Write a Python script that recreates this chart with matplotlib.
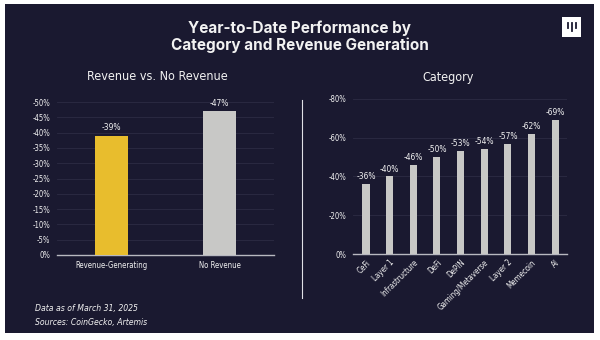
import matplotlib.pyplot as plt
from matplotlib.patches import Rectangle
from matplotlib.lines import Line2D

# YTD performance data (negative returns)
rev_labels = ['Revenue-Generating', 'No Revenue']
rev_values = [-39, -47]
rev_colors = ['#E8BD2D', '#C8C8C6']

cat_labels = ['CeFi', 'Layer 1', 'Infrastructure', 'DeFi', 'DePIN',
              'Gaming/Metaverse', 'Layer 2', 'Memecoin', 'AI']
cat_values = [-36, -40, -46, -50, -53, -54, -57, -62, -69]

rev_ticks = [0, -5, -10, -15, -20, -25, -30, -35, -40, -45, -50]
cat_ticks = [0, -20, -40, -60, -80]

BG = '#1A1930'
GRID = '#2D2C44'
TXT = '#F2F2F2'
NARROW = dict(family=['DejaVu Sans'], stretch='condensed')

fig = plt.figure(figsize=(6, 3.4), dpi=100, facecolor='white')

# dark card
fig.patches.append(Rectangle((5 / 600, 1 - 333 / 340), 589 / 600, 329 / 340,
                             transform=fig.transFigure, facecolor=BG,
                             edgecolor='none', zorder=-5))

fig.text(0.5, 1 - 28 / 340, 'Year-to-Date Performance by', ha='center', va='center',
         color=TXT, fontsize=11, fontweight='bold', family=['Inter', 'DejaVu Sans'])
fig.text(0.5, 1 - 45 / 340, 'Category and Revenue Generation', ha='center', va='center',
         color=TXT, fontsize=11, fontweight='bold', family=['Inter', 'DejaVu Sans'])

# logo box
fig.patches.append(Rectangle((562 / 600, 1 - 37 / 340), 19 / 600, 20 / 340,
                             transform=fig.transFigure, facecolor='white',
                             edgecolor='none', zorder=1))
for bx, bot in [(567.5, 28), (571.5, 31), (575.5, 28)]:
    fig.lines.append(Line2D([bx / 600, bx / 600], [1 - 23 / 340, 1 - bot / 340],
                            transform=fig.transFigure, color=BG, lw=1.3, zorder=2))


def style_axes(ax, ticks):
    ax.set_facecolor('none')
    for s in ['top', 'right', 'left']:
        ax.spines[s].set_visible(False)
    ax.spines['bottom'].set_color('#B8B8C0')
    ax.spines['bottom'].set_linewidth(1.0)
    ax.set_yticks(ticks)
    ax.set_yticklabels([f'{t}%' for t in ticks], fontsize=5.5, color=TXT, **NARROW)
    ax.tick_params(axis='both', length=0, pad=5)
    ax.yaxis.grid(True, color=GRID, lw=0.6)
    ax.set_axisbelow(True)


# left panel: revenue vs no revenue
ax1 = fig.add_axes([57 / 600, 1 - 255 / 340, 217 / 600, 156 / 340])
style_axes(ax1, rev_ticks)
ax1.set_ylim(0, -51)
ax1.set_xlim(-0.5, 1.5)
ax1.bar(range(len(rev_values)), rev_values, width=0.3, color=rev_colors, zorder=3)
for i, v in enumerate(rev_values):
    ax1.text(i, v - 1.2, f'{v}%', ha='center', va='bottom', color=TXT,
             fontsize=6, **NARROW)
ax1.set_xticks(range(len(rev_labels)))
ax1.set_xticklabels(rev_labels, fontsize=5.6, color=TXT, **NARROW)
ax1.tick_params(axis='x', pad=4)
fig.text(157 / 600, 1 - 77 / 340, 'Revenue vs. No Revenue', ha='center', va='center',
         color=TXT, fontsize=9, **NARROW)

# right panel: by category
ax2 = fig.add_axes([353 / 600, 1 - 254 / 340, 214 / 600, 157 / 340])
style_axes(ax2, cat_ticks)
ax2.set_ylim(0, -81)
ax2.set_xlim(-0.55, 8.5)
ax2.bar(range(len(cat_values)), cat_values, width=0.3, color='#C8C8C6', zorder=3)
for i, v in enumerate(cat_values):
    ax2.text(i, v - 1.5, f'{v}%', ha='center', va='bottom', color=TXT,
             fontsize=6, **NARROW)
ax2.set_xticks(range(len(cat_labels)))
ax2.set_xticklabels(cat_labels, fontsize=5.7, color=TXT,
                    rotation=45, ha='right', rotation_mode='anchor', **NARROW)
ax2.tick_params(axis='x', pad=3)
fig.text(448 / 600, 1 - 77 / 340, 'Category', ha='center', va='center',
         color=TXT, fontsize=9, **NARROW)

# divider between panels
fig.lines.append(Line2D([302 / 600, 302 / 600], [1 - 100 / 340, 1 - 298 / 340],
                        transform=fig.transFigure, color='#E0E0E6', lw=0.8))

fig.text(35 / 600, 1 - 309 / 340, 'Data as of March 31, 2025', ha='left', va='center',
         color=TXT, fontsize=6.2, style='italic', **NARROW)
fig.text(35 / 600, 1 - 322 / 340, 'Sources: CoinGecko, Artemis', ha='left', va='center',
         color=TXT, fontsize=6.2, style='italic', **NARROW)

fig.savefig('out.png', dpi=100, facecolor='white')
